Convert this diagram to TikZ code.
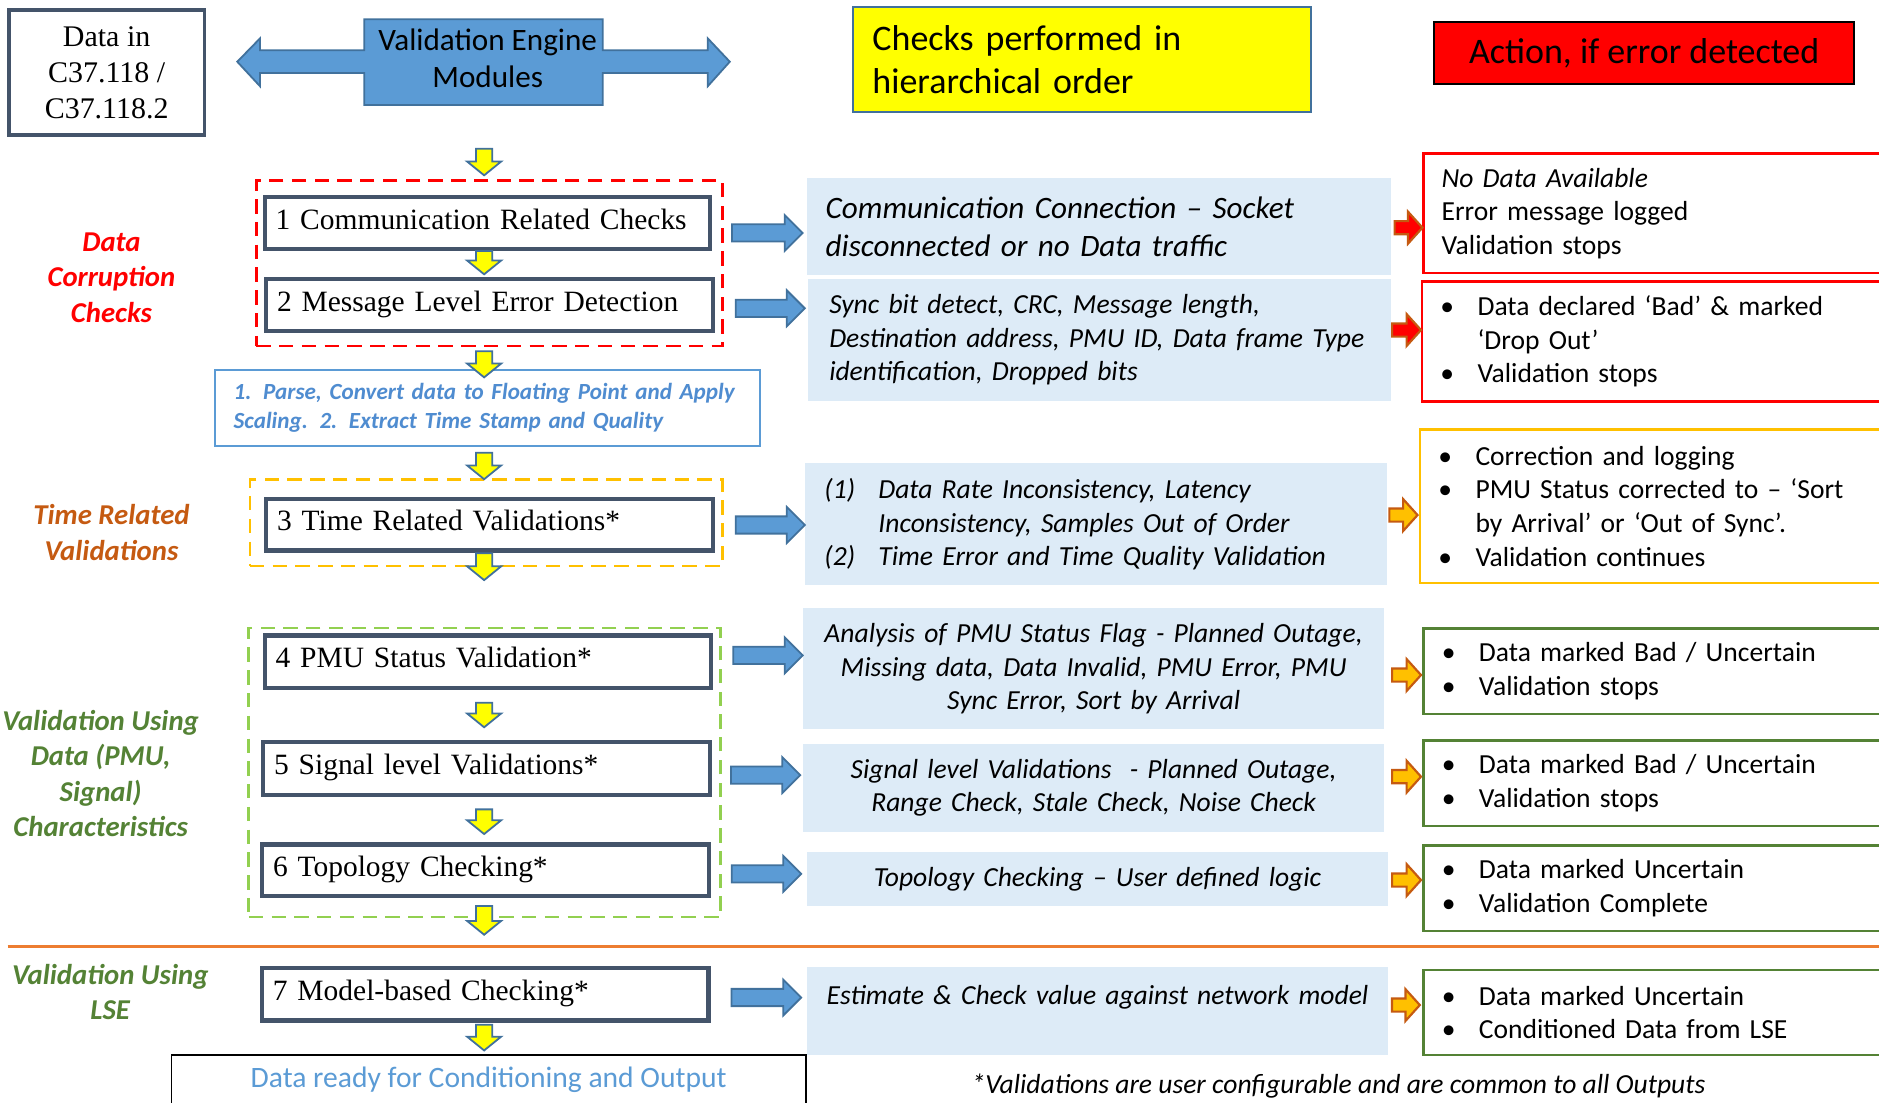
\documentclass[tikz,border=0pt]{standalone}
\usepackage{fontspec}
\setmainfont{Carlito}
\newfontfamily\timesfont{Liberation Serif}
\usetikzlibrary{calc}

\definecolor{slate}{HTML}{44546A}
\definecolor{flowblue}{HTML}{5B9BD5}
\definecolor{flowedge}{HTML}{41719C}
\definecolor{descblue}{HTML}{DDEBF7}
\definecolor{alertred}{HTML}{FF0000}
\definecolor{amber}{HTML}{FFC000}
\definecolor{lime}{HTML}{92D050}
\definecolor{leafgreen}{HTML}{548235}
\definecolor{rust}{HTML}{C55A11}
\definecolor{sepline}{HTML}{ED7D31}
\definecolor{parseblue}{HTML}{4F8CD0}
\definecolor{hiyellow}{HTML}{FFFF00}

% block arrow pointing right: style, start, end, shaft half-height, head half-height, head length
\newcommand\rblock[6]{\filldraw[#1] let \p1=#2, \p2=#3 in
  (\x1,\y1+#4) -- (\x2-#6,\y1+#4) -- (\x2-#6,\y1+#5) -- (\x2,\y1)
  -- (\x2-#6,\y1-#5) -- (\x2-#6,\y1-#4) -- (\x1,\y1-#4) -- cycle;}
% block arrow pointing down: style, start, end, shaft half-width, head half-width, head length
\newcommand\dblock[6]{\filldraw[#1] let \p1=#2, \p2=#3 in
  (\x1-#4,\y1) -- (\x1-#4,\y2+#6) -- (\x1-#5,\y2+#6) -- (\x1,\y2)
  -- (\x1+#5,\y2+#6) -- (\x1+#4,\y2+#6) -- (\x1+#4,\y1) -- cycle;}
% bullet lines
\newcommand\bitem[1]{\makebox[31pt][l]{\textbullet}#1}
\newcommand\bcont[1]{\hspace*{31pt}#1}

\tikzset{
  stepbox/.style={draw=slate, line width=3.5pt, fill=white, inner xsep=9pt, inner ysep=0pt,
    font=\timesfont\fontsize{24.6}{30}\selectfont, align=left, text height=17pt, text depth=6.5pt},
  zone/.style={draw=#1, line width=2.2pt, dash pattern=on 12pt off 7pt, inner sep=0pt},
  desc/.style={fill=descblue, inner ysep=0pt, font=\itshape\fontsize{23}{28}\selectfont},
  action/.style={inner ysep=0pt, inner xsep=15pt, font=\fontsize{23}{28}\selectfont, align=left},
  sidelabel/.style={font=\bfseries\itshape\fontsize{24}{29.5}\selectfont, align=center, inner sep=0pt},
  bluearrow/.style={fill=flowblue, draw=flowedge, line width=1.5pt},
  downarrow/.style={fill=hiyellow, draw=flowedge, line width=1.5pt},
  warnarrow/.style={fill=#1, draw=rust, line width=1.8pt},
}

\begin{document}
\begin{tikzpicture}[x=1pt, y=-1pt]
\useasboundingbox (0,0) rectangle (1568,920);

% ---------- header row ----------
\node[draw=slate, line width=3pt, fill=white, minimum width=163, minimum height=104,
  align=center, inner sep=0pt, font=\timesfont\fontsize{25}{30}\selectfont]
  (dbox) at (89,60.5) {Data in\\C37.118 /\\C37.118.2};

\filldraw[bluearrow] (198,51.5) -- (217,32) -- (217,42) -- (304,42) -- (304,16)
  -- (503,16) -- (503,42) -- (590.6,42) -- (590.6,32) -- (609,51.5) -- (590.6,72)
  -- (590.6,61) -- (503,61) -- (503,87.6) -- (304,87.6) -- (304,61) -- (217,61)
  -- (217,72) -- cycle;
\node[font=\fontsize{26}{31}\selectfont, align=center, inner sep=0pt]
  (vem) at (407,48.5) {Validation Engine\\Modules};

\node[draw=flowedge, line width=1.5pt, fill=hiyellow, minimum width=382.2, minimum height=88,
  text width=349.6, inner xsep=16.3, inner ysep=0pt, align=left,
  font=\fontsize{30}{36}\selectfont]
  (hdrChecks) at (902.85,49.75) {Checks performed in\\hierarchical order};

\node[draw=black, line width=1.5pt, fill=alertred, minimum width=350.5, minimum height=52.2,
  inner sep=0pt, font=\fontsize{30}{36}\selectfont]
  (hdrAction) at (1372,44.15) {Action, if error detected};

% ---------- group frames ----------
\node[zone=alertred, minimum width=388.8, minimum height=138] (grpA) at (408.3,219.8) {};
\node[zone=amber, minimum width=394.2, minimum height=72] (grpB) at (405.6,436.3) {};
\node[zone=lime, minimum width=393.8, minimum height=241.2] (grpC) at (404.5,644.7) {};

% ---------- validation steps ----------
\node[stepbox, minimum width=371.1, minimum height=43.3, text width=353.1]
  (b1) at (406.6,186.1) {1 Communication Related Checks};
\node[stepbox, minimum width=373, minimum height=43.8, text width=355]
  (b2) at (408.75,254.55) {2 Message Level Error Detection};
\node[draw=flowblue, line width=1.5pt, fill=white, minimum width=455, minimum height=63.3,
  text width=424, inner xsep=15.5, inner ysep=0pt, align=left, text=parseblue,
  font=\bfseries\itshape\fontsize{19.3}{24}\selectfont]
  (parse) at (407,340.4) {\mbox{1. Parse, Convert data to Floating Point and Apply}\\\mbox{Scaling. 2. Extract Time Stamp and Quality}};
\node[stepbox, minimum width=373, minimum height=43.2, text width=355]
  (b3) at (408.75,437.85) {3 Time Related Validations*};
\node[stepbox, minimum width=372, minimum height=43.8, text width=354]
  (b4) at (407.05,552.15) {4 PMU Status Validation*};
\node[stepbox, minimum width=372.5, minimum height=44.4, text width=354.5]
  (b5) at (406,641.45) {5 Signal level Validations*};
\node[stepbox, minimum width=372.5, minimum height=43.2, text width=354.5]
  (b6) at (405.1,726.35) {6 Topology Checking*};
\node[stepbox, minimum width=372.5, minimum height=43.8, text width=354.5]
  (b7) at (405,829.75) {7 Model-based Checking*};

\node[minimum width=528.9, minimum height=41.65, inner sep=0pt, text=flowblue,
  font=\fontsize{24.7}{29}\selectfont]
  (final) at (407.8,901.2) {Data ready for Conditioning and Output};
\draw[black, line width=1.5pt] (final.south west) -- (final.north west)
  -- (final.north east) -- (final.south east);

% ---------- separator ----------
\draw[sepline, line width=2.8pt] (6.4,790) -- (1568,790);

% ---------- side labels ----------
\node[sidelabel, text=alertred] (lblA) at (93,231.7) {Data\\Corruption\\Checks};
\node[sidelabel, text=rust] (lblB) at (93,444.5) {Time Related\\Validations};
\node[sidelabel, text=leafgreen] (lblC) at (84,645.5) {Validation Using\\Data (PMU,\\Signal)\\Characteristics};
\node[sidelabel, text=leafgreen] (lblD) at (92,828) {Validation Using\\LSE};

% ---------- checks performed ----------
\node[desc, minimum width=487.3, minimum height=80.7, text width=456.7, inner xsep=15.3,
  align=left, font=\itshape\fontsize{26}{32}\selectfont]
  (d1) at (917.35,189.15) {Communication Connection – Socket\\disconnected or no Data traffic};
\node[desc, minimum width=486.5, minimum height=101.3, text width=451.1, inner xsep=17.7, align=left]
  (d2) at (917.55,283.75) {Sync bit detect, CRC, Message length,\\Destination address, PMU ID, Data frame Type\\identification, Dropped bits};
\node[desc, minimum width=486, minimum height=101.5, text width=452.8, inner xsep=16.6, align=left]
  (d3) at (914.4,437.45) {\makebox[45pt][l]{(1)}Data Rate Inconsistency, Latency\\\hspace*{45pt}Inconsistency, Samples Out of Order\\\makebox[45pt][l]{(2)}Time Error and Time Quality Validation};
\node[desc, minimum width=484.8, minimum height=100.9, text width=474.8, inner xsep=5, align=center]
  (d4) at (912.6,558.15) {Analysis of PMU Status Flag - Planned Outage,\\Missing data, Data Invalid, PMU Error, PMU\\Sync Error, Sort by Arrival};
\node[desc, minimum width=484.8, minimum height=73.1, text width=474.8, inner xsep=5, align=center]
  (d5) at (912.6,657.45) {Signal level Validations\ \ - Planned Outage,\\Range Check, Stale Check, Noise Check};
\node[desc, minimum width=485.5, minimum height=44.5, text width=475.5, inner xsep=5, align=center]
  (d6) at (915.85,733.55) {Topology Checking – User defined logic};
\node[desc, minimum width=485.5, minimum height=73.1, text width=475.5, inner xsep=5, align=center]
  (d7) at (915.85,843.85) {Estimate \& Check value against network model\\\mbox{}};

% ---------- actions ----------
\node[action, minimum width=382, minimum height=99.3, text width=352]
  (a1) at (1379,178.05) {\textit{No Data Available}\\Error message logged\\Validation stops};
\node[action, minimum width=383, minimum height=99.5, text width=353]
  (a2) at (1378.5,284.95) {\bitem{Data declared ‘Bad’ \& marked}\\\bcont{‘Drop Out’}\\\bitem{Validation stops}};
\node[action, minimum width=384.7, minimum height=127.9, text width=354.7]
  (a3) at (1377.65,422.45) {\bitem{Correction and logging}\\\bitem{PMU Status corrected to – ‘Sort}\\\bcont{by Arrival’ or ‘Out of Sync’.}\\\bitem{Validation continues}};
\node[action, minimum width=381.8, minimum height=70.9, text width=351.8]
  (a4) at (1379.1,560.25) {\bitem{Data marked Bad / Uncertain}\\\bitem{Validation stops}};
\node[action, minimum width=381.8, minimum height=70.9, text width=351.8]
  (a5) at (1379.1,653.45) {\bitem{Data marked Bad / Uncertain}\\\bitem{Validation stops}};
\node[action, minimum width=381.8, minimum height=70.9, text width=351.8]
  (a6) at (1379.1,741.05) {\bitem{Data marked Uncertain}\\\bitem{Validation Complete}};
\node[action, minimum width=381.8, minimum height=70.6, text width=351.8]
  (a7) at (1379.1,844.9) {\bitem{Data marked Uncertain}\\\bitem{Conditioned Data from LSE}};

\foreach \n/\c in {a1/alertred, a2/alertred, a3/amber, a4/leafgreen, a5/leafgreen, a6/leafgreen, a7/leafgreen}
  \draw[\c, line width=2pt] (\n.north east) -- (\n.north west) -- (\n.south west) -- (\n.south east);

\node[font=\itshape\fontsize{23}{28}\selectfont, inner sep=0pt]
  (note) at (1117,906) {*Validations are user configurable and are common to all Outputs};

% ---------- flow down the steps ----------
\coordinate (spine) at (404,0);
\dblock{downarrow}{($(spine |- grpA.north)+(0,-25.5)$)}{($(spine |- grpA.north)+(0,-3.4)$)}{6.8pt}{14.2pt}{11.5pt}
\dblock{downarrow}{(spine |- b1.south)}{($(spine |- b2.north)+(0,-2)$)}{6.8pt}{14.2pt}{11.5pt}
\dblock{downarrow}{($(spine |- grpA.south)+(0,3.2)$)}{($(spine |- parse.north)+(0,6.9)$)}{6.8pt}{14.2pt}{11.5pt}
\dblock{downarrow}{($(spine |- parse.south)+(0,5)$)}{($(spine |- grpB.north)+(0,0.7)$)}{6.8pt}{14.2pt}{11.5pt}
\dblock{downarrow}{($(spine |- b3.south)+(0,0.5)$)}{($(spine |- grpB.south)+(0,10.7)$)}{6.8pt}{14.2pt}{11.5pt}
\dblock{downarrow}{($(spine |- b4.south)+(0,10.6)$)}{($(spine |- b5.north)+(0,-10.6)$)}{6.8pt}{14.2pt}{11.5pt}
\dblock{downarrow}{($(spine |- b5.south)+(0,10)$)}{($(spine |- b6.north)+(0,-7)$)}{6.8pt}{14.2pt}{11.5pt}
\dblock{downarrow}{($(spine |- b6.south)+(0,6.4)$)}{($(spine |- grpC.south)+(0,13.6)$)}{6.8pt}{14.2pt}{11.5pt}
\dblock{downarrow}{($(spine |- b7.south)+(0,1.8)$)}{($(spine |- final.north)+(0,-3.6)$)}{6.8pt}{14.2pt}{11.5pt}

% ---------- steps to checks ----------
\rblock{bluearrow}{($(b1.east |- 0,194.4)+(17,0)$)}{($(d1.west |- 0,194.4)+(-3.7,0)$)}{7.2pt}{15pt}{15pt}
\rblock{bluearrow}{($(b2.east |- 0,257.3)+(17,0)$)}{($(d2.west |- 0,257.3)+(-2.5,0)$)}{7.2pt}{15pt}{15pt}
\rblock{bluearrow}{($(b3.east |- 0,438.1)+(17,0)$)}{($(d3.west |- 0,438.1)+(0.4,0)$)}{7.2pt}{15pt}{15pt}
\rblock{bluearrow}{($(b4.east |- 0,546.9)+(17,0)$)}{($(d4.west |- 0,546.9)+(-0.2,0)$)}{7.2pt}{15pt}{15pt}
\rblock{bluearrow}{($(b5.east |- 0,646.8)+(16,0)$)}{($(d5.west |- 0,646.8)+(-2.2,0)$)}{7.2pt}{15pt}{15pt}
\rblock{bluearrow}{($(b6.east |- 0,729.2)+(17.5,0)$)}{($(d6.west |- 0,729.2)+(-4.3,0)$)}{7.2pt}{15pt}{15pt}
\rblock{bluearrow}{($(b7.east |- 0,832.4)+(17.5,0)$)}{($(d7.west |- 0,832.4)+(-4.3,0)$)}{7.2pt}{15pt}{15pt}

% ---------- checks to actions ----------
\rblock{warnarrow=alertred}{($(d1.east |- 0,190)+(2.6,0)$)}{($(a1.west |- 0,190)+(-0.8,0)$)}{5.5pt}{13.3pt}{12pt}
\rblock{warnarrow=alertred}{($(d2.east |- 0,275.4)+(0.7,0)$)}{($(a2.west |- 0,275.4)+(-1,0)$)}{5.5pt}{13.3pt}{12pt}
\rblock{warnarrow=amber}{($(d3.east |- 0,429.8)+(1.8,0)$)}{($(a3.west |- 0,429.8)+(-2.2,0)$)}{5.5pt}{13.3pt}{12pt}
\rblock{warnarrow=amber}{($(d4.east |- 0,563.3)+(6.5,0)$)}{($(a4.west |- 0,563.3)+(-2.2,0)$)}{5.5pt}{13.3pt}{12pt}
\rblock{warnarrow=amber}{($(d5.east |- 0,648.1)+(6.5,0)$)}{($(a5.west |- 0,648.1)+(-2.2,0)$)}{5.5pt}{13.3pt}{12pt}
\rblock{warnarrow=amber}{($(d6.east |- 0,734.4)+(2.9,0)$)}{($(a6.west |- 0,734.4)+(-2.2,0)$)}{5.5pt}{13.3pt}{12pt}
\rblock{warnarrow=amber}{($(d7.east |- 0,838.7)+(2.8,0)$)}{($(a7.west |- 0,838.7)+(-3.2,0)$)}{5.5pt}{13.3pt}{12pt}
\end{tikzpicture}
\end{document}
